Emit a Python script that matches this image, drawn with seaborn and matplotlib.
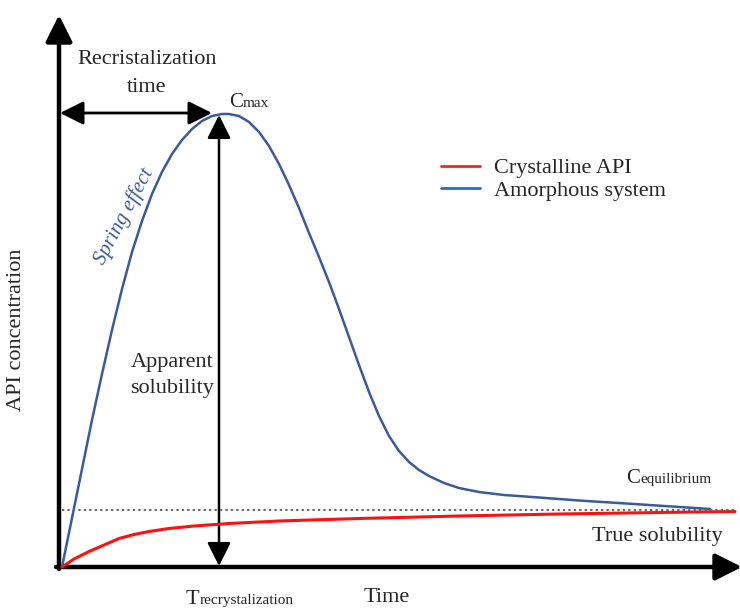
import numpy as np
import pandas as pd
import matplotlib
matplotlib.use("Agg")
import matplotlib.pyplot as plt
import seaborn as sns
from matplotlib.patches import FancyArrowPatch
from matplotlib.lines import Line2D

sns.set_theme(style="white")
plt.rcParams['font.family'] = ['Liberation Serif', 'DejaVu Serif']

# ---- data (time / concentration, arbitrary units) ----
amorph_time = [3, 13, 23, 33, 43, 53, 63, 73, 83, 93, 103, 113, 123, 133, 143, 153, 163,
               170, 180, 190, 200, 210, 220, 230, 240, 250, 260, 270, 280, 290, 300,
               310, 320, 330, 340, 350, 360, 370, 385, 400, 420, 445, 480, 520, 575, 651]
amorph_conc = [0, 49, 98, 147, 193, 237, 278, 315, 346, 373, 395, 413, 427, 438, 446, 451, 453,
               453, 451, 445, 435, 421, 403, 382, 359, 334, 310, 285, 258, 230, 202,
               175, 151, 131, 116, 105, 97, 91, 84, 79, 75, 72, 69.5, 66.5, 63, 58]
cryst_time = [3, 15, 30, 45, 60, 75, 90, 110, 135, 170, 220, 300, 400, 500, 600, 676]
cryst_conc = [0, 8, 15.5, 22, 28.5, 32.5, 35.5, 38.5, 41, 43.5, 46, 48.5, 51, 53, 54.5, 55.5]
equilibrium = 57
t_recryst = 160
c_max = 453

labels = ["Crystalline API", "Amorphous system"]

df_a = pd.DataFrame({"time": amorph_time, "conc": amorph_conc})
df_c = pd.DataFrame({"time": cryst_time, "conc": cryst_conc})

fig = plt.figure(figsize=(7.4, 6.08), dpi=100)
ax = fig.add_axes([0, 0, 1, 1])
X0, Y0 = 59, 567
ax.set_xlim(-X0, 740 - X0)
ax.set_ylim(Y0 - 608, Y0)
ax.axis("off")

def P(x, y):
    return (x - X0, Y0 - y)

blue = "#3a5a9e"
sns.lineplot(data=df_a, x="time", y="conc", ax=ax, color=blue, lw=1.8, sort=False)
sns.lineplot(data=df_c, x="time", y="conc", ax=ax, color="#ff1010", lw=2.2, sort=False)
ax.plot([3, 676], [equilibrium, equilibrium], ls=(0, (1.2, 1.6)), color="#666666", lw=1.4)

# axes with arrowheads
ax.add_patch(FancyArrowPatch(P(59, 569), P(59, 15), arrowstyle="-|>,head_length=0.9,head_width=0.45",
                             mutation_scale=18, lw=3.2, color="black", shrinkA=0, shrinkB=0))
ax.add_patch(FancyArrowPatch(P(56, 567), P(742, 567), arrowstyle="-|>,head_length=0.9,head_width=0.45",
                             mutation_scale=18, lw=3.2, color="black", shrinkA=0, shrinkB=0))
# recrystallization time arrow
ax.add_patch(FancyArrowPatch(P(60, 113), P(212, 113), arrowstyle="<|-|>,head_length=0.8,head_width=0.4",
                             mutation_scale=18, lw=2.0, color="black", shrinkA=0, shrinkB=0))
# apparent solubility arrow
ax.add_patch(FancyArrowPatch((t_recryst, 1), (t_recryst, c_max - 1),
                             arrowstyle="<|-|>,head_length=0.8,head_width=0.4",
                             mutation_scale=18, lw=1.8, color="black", shrinkA=0, shrinkB=0))

fs = 16
ax.text(*P(147, 60), "Recristalization", ha="center", va="center", fontsize=fs)
ax.text(*P(147, 88), "time", ha="center", va="center", fontsize=fs)
ax.text(*P(229, 107), "C", ha="left", va="baseline", fontsize=15)
ax.text(*P(243, 107), "max", ha="left", va="baseline", fontsize=11)
ax.text(*P(124, 216), "Spring effect", ha="center", va="center", fontsize=15,
        rotation=62, style="italic", color=blue)
ax.text(*P(172, 362), "Apparent", ha="center", va="center", fontsize=fs)
ax.text(*P(172, 388), "solubility", ha="center", va="center", fontsize=fs)
ax.text(*P(17, 330), "API concentration", ha="center", va="center", fontsize=fs, rotation=90)
ax.text(*P(387, 597), "Time", ha="center", va="center", fontsize=fs)
ax.text(*P(186, 604), "T", ha="left", va="baseline", fontsize=16)
ax.text(*P(200, 604), "recrystalization", ha="left", va="baseline", fontsize=11)
ax.text(*P(626, 483), "C", ha="left", va="baseline", fontsize=15)
ax.text(*P(640, 483), "equilibrium", ha="left", va="baseline", fontsize=11)
ax.text(*P(657, 537), "True solubility", ha="center", va="center", fontsize=fs)

handles = [Line2D([], [], color="#ff2020", lw=2), Line2D([], [], color="#1f6fcf", lw=2)]
ax.legend(handles, labels, loc="upper left", bbox_to_anchor=(432 / 740, 1 - 149 / 608),
          frameon=False, fontsize=fs, handlelength=1.75, handletextpad=0.65,
          labelspacing=0.1, borderaxespad=0)

fig.savefig("out.png", dpi=100)
